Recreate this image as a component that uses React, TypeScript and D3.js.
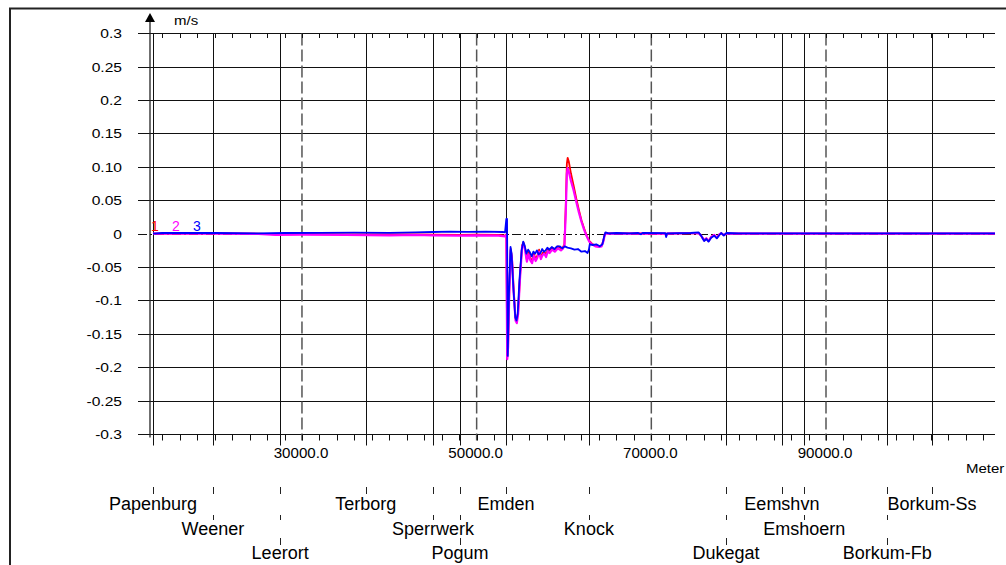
import React from 'react';
import * as d3 from 'd3';

const W = 1006;
const H = 565;

const yTickValues = [0.3, 0.25, 0.2, 0.15, 0.1, 0.05, 0, -0.05, -0.1, -0.15, -0.2, -0.25, -0.3];
const yTickLabels = ['0.3', '0.25', '0.2', '0.15', '0.10', '0.05', '0', '-0.05', '-0.1', '-0.15', '-0.2', '-0.25', '-0.3'];
const xTickValues = [30000, 50000, 70000, 90000];
const xTickLabels = ['30000.0', '50000.0', '70000.0', '90000.0'];

const stationNames = ['Papenburg', 'Weener', 'Leerort', 'Terborg', 'Sperrwerk', 'Pogum', 'Emden', 'Knock', 'Dukegat', 'Eemshvn', 'Emshoern', 'Borkum-Fb', 'Borkum-Ss'];
const stationPositions = [12950, 19800, 27500, 37300, 45000, 48100, 53350, 62850, 78550, 84950, 87500, 97000, 102150];
const stationRows = [0, 1, 2, 0, 1, 2, 0, 1, 2, 0, 1, 2, 0];

const legendLabels = ['1', '2', '3'];
const seriesColors = ['#ff0000', '#ff00ff', '#0000ff'];

// series 1 (red): [distance in m, velocity m/s]
const series1: [number, number][] = [
  [12950, 0], [16000, 0], [20000, 0.0003], [25000, 0], [27000, -0.001], [30000, -0.0008], [35000, -0.001],
  [40000, -0.0012], [43000, -0.001], [45000, -0.0015], [48000, -0.0018], [50000, -0.0015], [52500, -0.002],
  [53250, -0.003], [53400, -0.001], [53500, -0.185], [53600, -0.168], [53750, -0.078], [53900, -0.023],
  [54050, -0.037], [54250, -0.087], [54450, -0.127], [54600, -0.131], [54750, -0.117], [54950, -0.067],
  [55200, -0.018], [55350, -0.013], [55550, -0.022], [55750, -0.039], [55950, -0.028], [56150, -0.037],
  [56350, -0.041], [56550, -0.03], [56750, -0.038], [56950, -0.033], [57150, -0.024], [57350, -0.035],
  [57550, -0.029], [57750, -0.027], [57950, -0.032], [58150, -0.023], [58350, -0.026], [58650, -0.021],
  [58950, -0.024], [59300, -0.019], [59650, -0.022], [59900, -0.02], [60050, -0.016], [60200, 0.04],
  [60330, 0.105], [60420, 0.1135], [60550, 0.108], [60800, 0.09], [61100, 0.072], [61400, 0.053],
  [61700, 0.036], [62000, 0.02], [62300, 0.008], [62600, -0.003], [62900, -0.011], [63200, -0.015],
  [63600, -0.018], [64000, -0.019], [64300, -0.018], [64500, -0.011], [64700, 0.0005], [65000, 0.0005],
  [68000, 0.0003], [71600, 0], [71700, -0.003], [71800, 0], [75400, 0.001], [75700, -0.003], [76050, -0.01],
  [76300, -0.007], [76550, -0.011], [76850, -0.005], [77200, -0.002], [77500, -0.006], [77800, -0.001],
  [78000, 0.0005], [78300, -0.002], [78600, 0], [85000, 0], [95000, 0], [109350, 0],
];

// series 2 (magenta)
const series2: [number, number][] = [
  [12950, 0], [16000, 0], [20000, 0], [25000, -0.0005], [27000, -0.002], [30000, -0.0015], [35000, -0.002],
  [40000, -0.0025], [43000, -0.002], [45000, -0.0025], [48000, -0.003], [50000, -0.0025], [52500, -0.003],
  [53250, -0.004], [53400, -0.002], [53500, -0.188], [53600, -0.17], [53750, -0.08], [53900, -0.025],
  [54050, -0.04], [54250, -0.09], [54450, -0.13], [54600, -0.134], [54750, -0.12], [54950, -0.07],
  [55200, -0.02], [55350, -0.015], [55550, -0.025], [55750, -0.042], [55950, -0.031], [56150, -0.04],
  [56350, -0.044], [56550, -0.033], [56750, -0.041], [56950, -0.036], [57150, -0.027], [57350, -0.038],
  [57550, -0.032], [57750, -0.03], [57950, -0.035], [58150, -0.026], [58350, -0.029], [58650, -0.024],
  [58950, -0.027], [59300, -0.022], [59650, -0.025], [59900, -0.022], [60050, -0.018], [60200, 0.03],
  [60330, 0.09], [60420, 0.098], [60550, 0.093], [60800, 0.079], [61100, 0.065], [61400, 0.048],
  [61700, 0.032], [62000, 0.018], [62300, 0.006], [62600, -0.004], [62900, -0.012], [63200, -0.016],
  [63600, -0.019], [64000, -0.02], [64300, -0.019], [64500, -0.012], [64700, 0], [65000, 0],
  [68000, 0], [71600, 0], [71700, -0.003], [71800, 0], [75400, 0.001], [75700, -0.003], [76050, -0.01],
  [76300, -0.007], [76550, -0.011], [76850, -0.005], [77200, -0.002], [77500, -0.006], [77800, -0.001],
  [78000, 0.0005], [78300, -0.002], [78600, 0], [85000, 0], [95000, 0], [109350, 0],
];

// series 3 (blue)
const series3: [number, number][] = [
  [12950, 0], [14000, 0.001], [16000, 0.001], [20000, 0.001], [25000, 0.0005], [28000, 0.001],
  [32000, 0.0012], [36000, 0.0015], [40000, 0.0012], [43000, 0.002], [45000, 0.0025], [47000, 0.003],
  [49000, 0.0028], [51000, 0.003], [53000, 0.0025], [53250, 0.002], [53400, 0.022], [53480, 0.022],
  [53560, -0.183], [53700, -0.09], [53880, -0.02], [54000, -0.03], [54200, -0.08], [54420, -0.125],
  [54560, -0.13], [54700, -0.12], [54900, -0.07], [55150, -0.025], [55330, -0.012], [55500, -0.018],
  [55700, -0.03], [55900, -0.024], [56100, -0.028], [56300, -0.034], [56500, -0.027], [56700, -0.03],
  [56900, -0.025], [57100, -0.031], [57300, -0.029], [57500, -0.023], [57700, -0.027], [57900, -0.025],
  [58100, -0.021], [58300, -0.024], [58600, -0.02], [58900, -0.023], [59200, -0.019], [59500, -0.019],
  [59800, -0.022], [60100, -0.019], [60400, -0.021], [60800, -0.022], [61200, -0.024], [61600, -0.023],
  [62000, -0.027], [62400, -0.026], [62700, -0.029], [62850, -0.024], [62950, -0.016], [63300, -0.017],
  [63700, -0.016], [64100, -0.019], [64400, -0.016], [64600, -0.004], [64750, 0.002], [65100, 0.0005],
  [66000, 0.001], [67500, 0.0005], [68500, 0.001], [68800, -0.001], [69000, 0.001], [71600, 0.0008],
  [71700, -0.005], [71800, 0.0005], [74500, 0.001], [75400, 0.002], [75700, -0.003], [76050, -0.011],
  [76300, -0.008], [76550, -0.012], [76850, -0.006], [77200, -0.003], [77500, -0.007], [77800, -0.002],
  [78000, 0.001], [78300, -0.003], [78600, 0.001], [80000, 0.0005], [90000, 0.0003], [100000, 0.0003],
  [109350, 0.0003],
];

const allSeries = [series1, series2, series3];
const seriesWidths = [1.8, 2.2, 1.8];

const x = d3.scaleLinear().domain([12600, 109350]).range([150, 995]);
const y = d3.scaleLinear().domain([-0.3, 0.3]).range([434, 33.3]);

const minorTicks = d3.range(14000, 108001, 2000);

const FONT = 'Liberation Sans, Arial, Helvetica, sans-serif';

const crisp = (v: number) => Math.round(v) + 0.5;

export default function App() {
  const line = d3
    .line<[number, number]>()
    .x((d) => x(d[0]))
    .y((d) => y(d[1]));

  const left = 138;
  const right = 995;
  const yTop = crisp(y(0.3));
  const yBot = crisp(y(-0.3));
  const rowTicks: [number, number][] = [
    [487, 494],
    [515, 520],
    [538, 545],
  ];
  const rowBaselines = [510, 534.5, 559];

  return (
    <svg
      width={W}
      height={H}
      style={{ position: 'absolute', left: 0, top: 0, background: '#fff' }}
      fontFamily={FONT}
    >
      <rect x={0} y={0} width={W} height={H} fill="#fff" />
      {/* outer frame */}
      <line x1={10} x2={10} y1={8} y2={H + 2} stroke="#222" strokeWidth={2} />
      <line x1={9} x2={W + 2} y1={8.5} y2={8.5} stroke="#222" strokeWidth={2} />

      {/* horizontal grid lines */}
      {yTickValues.map((v, i) =>
        v === 0 ? null : (
          <line key={'h' + i} x1={left} x2={right} y1={crisp(y(v))} y2={crisp(y(v))} stroke="#111" strokeWidth={1} />
        )
      )}
      {/* zero line dash-dot */}
      <line x1={left} x2={right} y1={crisp(y(0))} y2={crisp(y(0))} stroke="#111" strokeWidth={1} strokeDasharray="9,3,2,3" />

      {/* dashed vertical lines at labelled distances */}
      {xTickValues.map((v, i) => (
        <line key={'dv' + i} x1={x(v)} x2={x(v)} y1={yTop} y2={yBot + 6} stroke="#555" strokeWidth={1.5} strokeDasharray="12,4" />
      ))}

      {/* minor ticks top and bottom */}
      {minorTicks.map((v, i) => (
        <g key={'mt' + i}>
          <line x1={crisp(x(v))} x2={crisp(x(v))} y1={yTop} y2={yTop + 4.5} stroke="#111" strokeWidth={1} />
          <line x1={crisp(x(v))} x2={crisp(x(v))} y1={yBot} y2={yBot + 6} stroke="#111" strokeWidth={1} />
        </g>
      ))}

      {/* station vertical lines */}
      {stationPositions.map((p, i) => (
        <line key={'sv' + i} x1={crisp(x(p))} x2={crisp(x(p))} y1={yTop} y2={yBot + 11} stroke="#111" strokeWidth={1} />
      ))}

      {/* y axis with arrow */}
      <line x1={150} x2={150} y1={20} y2={yBot + 3} stroke="#222" strokeWidth={1.3} />
      <path d="M150,13 L145,22 L155,22 Z" fill="#000" />
      <text transform={`translate(174,25) scale(1.25,1)`} fontSize={12} fill="#000">
        m/s
      </text>

      {/* y tick labels */}
      {yTickValues.map((v, i) => (
        <text
          key={'yl' + i}
          transform={`translate(122,${y(v) + 5}) scale(1.2,1)`}
          textAnchor="end"
          fontSize={13}
          fill="#000"
        >
          {yTickLabels[i]}
        </text>
      ))}

      {/* x tick labels */}
      {xTickValues.map((v, i) => (
        <text
          key={'xl' + i}
          transform={`translate(${x(v) - 1},458) scale(1.08,1)`}
          textAnchor="middle"
          fontSize={14}
          fill="#000"
        >
          {xTickLabels[i]}
        </text>
      ))}
      <text transform="translate(966,473) scale(1.2,1)" fontSize={12.5} fill="#000">
        Meter
      </text>

      {/* station ticks and labels */}
      {stationPositions.map((p, i) => (
        <g key={'st' + i}>
          {rowTicks.slice(0, stationRows[i] + 1).map((r, j) => (
            <line key={j} x1={crisp(x(p))} x2={crisp(x(p))} y1={r[0]} y2={r[1]} stroke="#222" strokeWidth={1} />
          ))}
          <text x={x(p)} y={rowBaselines[stationRows[i]]} textAnchor="middle" fontSize={18} fill="#000">
            {stationNames[i]}
          </text>
        </g>
      ))}

      {/* series */}
      {allSeries.map((s, i) => (
        <path key={'s' + i} d={line(s) || ''} fill="none" stroke={seriesColors[i]} strokeWidth={seriesWidths[i]} strokeLinejoin="round" />
      ))}

      {/* legend numbers */}
      {legendLabels.map((l, i) => (
        <text key={'lg' + i} x={151 + i * 21} y={231} fontSize={14} fill={seriesColors[i]}>
          {l}
        </text>
      ))}
    </svg>
  );
}
